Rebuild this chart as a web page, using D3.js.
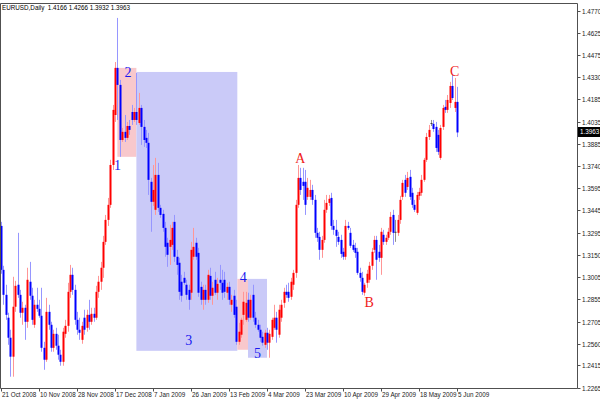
<!DOCTYPE html>
<html><head><meta charset="utf-8">
<script src="https://cdn.jsdelivr.net/npm/d3@7"></script>
<style>body{margin:0;background:#fff}svg{display:block}</style>
</head><body>
<svg id="c" width="600" height="400"></svg>
<script>
const title = "EURUSD,Daily  1.4166 1.4266 1.3932 1.3963";
const open = [1.3342,1.3050,1.2884,1.2732,1.2599,1.2473,1.2805,1.2951,1.2884,1.2765,1.2798,1.2705,1.2971,1.2878,1.2685,1.2818,1.2791,1.2745,1.2532,1.2453,
1.2771,1.2685,1.2532,1.2625,1.2546,1.2486,1.2439,1.2625,1.2678,1.2904,1.3017,1.2917,1.2718,1.2652,1.2585,1.2732,1.2665,1.2751,1.2705,1.2758,
1.2732,1.2904,1.2971,1.3064,1.3236,1.3382,1.3482,1.3747,1.4079,1.4392,1.4279,1.3913,1.3967,1.3927,1.4006,1.4099,1.4046,1.4099,1.4026,1.4126,
1.4000,1.3927,1.3894,1.3635,1.3502,1.3449,1.3681,1.3462,1.3422,1.3329,1.3230,1.3203,1.3216,1.3369,1.3137,1.3097,1.2971,1.2997,1.2951,1.2917,
1.2898,1.3137,1.3230,1.3163,1.2937,1.2851,1.2917,1.2851,1.3010,1.2878,1.2984,1.2898,1.2984,1.2964,1.2984,1.2898,1.2937,1.2818,1.2878,1.2805,
1.2572,1.2619,1.2751,1.2718,1.2851,1.2732,1.2884,1.2732,1.2685,1.2652,1.2605,1.2552,1.2632,1.2566,1.2605,1.2665,1.2732,1.2619,1.2732,1.2831,
1.2904,1.2904,1.2871,1.2951,1.3030,1.3482,1.3661,1.3635,1.3635,1.3535,1.3535,1.3581,1.3515,1.3296,1.3269,1.3183,1.3249,1.3449,1.3495,1.3528,
1.3342,1.3316,1.3269,1.3249,1.3170,1.3137,1.3342,1.3296,1.3216,1.3196,1.3170,1.3030,1.2997,1.2898,1.2964,1.2984,1.3077,1.3183,1.3249,1.3170,
1.3130,1.3283,1.3236,1.3263,1.3303,1.3415,1.3303,1.3296,1.3382,1.3535,1.3648,1.3601,1.3668,1.3562,1.3482,1.3429,1.3542,1.3562,1.3648,1.3781,
1.3933,1.4026,1.4020,1.4000,1.3947,1.3794,1.4000,1.4133,1.4113,1.4159,1.4272,1.4126,1.4166];
const high = [1.3369,1.3077,1.2951,1.2765,1.2652,1.3004,1.2977,1.3296,1.2917,1.2838,1.2818,1.3064,1.3103,1.2931,1.2851,1.2931,1.2851,1.2931,1.2572,1.2864,
1.2818,1.2705,1.2652,1.2665,1.2619,1.2519,1.2665,1.2718,1.2964,1.3083,1.3064,1.2951,1.2771,1.2732,1.2705,1.2785,1.2785,1.2851,1.2798,1.2798,
1.2944,1.3010,1.3103,1.3276,1.3415,1.3528,1.3781,1.4146,1.4431,1.4724,1.4312,1.3993,1.4079,1.4033,1.4046,1.4146,1.4126,1.4358,1.4226,1.4146,
1.4046,1.3980,1.3960,1.3661,1.3747,1.3794,1.3761,1.3482,1.3449,1.3369,1.3263,1.3349,1.3369,1.3415,1.3183,1.3130,1.3017,1.3037,1.2984,1.2951,
1.3236,1.3329,1.3263,1.3196,1.2971,1.2951,1.2951,1.3050,1.3064,1.2971,1.3037,1.2997,1.3083,1.3050,1.3037,1.2964,1.2971,1.2884,1.2917,1.2851,
1.2698,1.2732,1.2904,1.2904,1.2898,1.2884,1.2951,1.2771,1.2718,1.2685,1.2639,1.2652,1.2665,1.2652,1.2732,1.2818,1.2771,1.2818,1.2851,1.2931,
1.2951,1.2964,1.2997,1.3050,1.3515,1.3747,1.3728,1.3728,1.3714,1.3661,1.3648,1.3615,1.3548,1.3329,1.3303,1.3276,1.3515,1.3548,1.3548,1.3562,
1.3382,1.3382,1.3303,1.3283,1.3196,1.3382,1.3369,1.3329,1.3249,1.3230,1.3196,1.3064,1.3037,1.2964,1.3050,1.3103,1.3196,1.3276,1.3276,1.3216,
1.3329,1.3316,1.3283,1.3329,1.3435,1.3449,1.3382,1.3415,1.3542,1.3648,1.3681,1.3701,1.3714,1.3595,1.3515,1.3568,1.3595,1.3681,1.3794,1.3960,
1.4013,1.4046,1.4046,1.4033,1.3980,1.4013,1.4146,1.4179,1.4212,1.4299,1.4345,1.4325,1.4266];
const low = [1.3024,1.2818,1.2718,1.2552,1.2340,1.2340,1.2771,1.2864,1.2732,1.2685,1.2585,1.2665,1.2851,1.2685,1.2665,1.2771,1.2732,1.2506,1.2386,1.2439,
1.2652,1.2506,1.2506,1.2519,1.2453,1.2413,1.2413,1.2599,1.2639,1.2864,1.2884,1.2685,1.2619,1.2585,1.2559,1.2619,1.2639,1.2652,1.2685,1.2705,
1.2718,1.2864,1.2917,1.2997,1.3216,1.3342,1.3462,1.3714,1.4033,1.4046,1.3801,1.3900,1.3900,1.3913,1.3947,1.4013,1.4033,1.4013,1.4013,1.3880,
1.3867,1.3860,1.3548,1.3303,1.3475,1.3415,1.3435,1.3396,1.3303,1.3137,1.3070,1.3083,1.3183,1.3103,1.3017,1.2851,1.2838,1.2951,1.2851,1.2785,
1.2851,1.3117,1.3117,1.2871,1.2818,1.2785,1.2818,1.2831,1.2851,1.2818,1.2884,1.2851,1.2917,1.2851,1.2864,1.2851,1.2818,1.2771,1.2732,1.2552,
1.2552,1.2599,1.2685,1.2705,1.2705,1.2718,1.2705,1.2665,1.2639,1.2572,1.2546,1.2532,1.2519,1.2466,1.2585,1.2652,1.2566,1.2599,1.2705,1.2798,
1.2864,1.2838,1.2851,1.2917,1.2997,1.3462,1.3548,1.3515,1.3415,1.3515,1.3515,1.3482,1.3263,1.3236,1.3117,1.3130,1.3230,1.3429,1.3475,1.3316,
1.3283,1.3203,1.3216,1.3130,1.3117,1.3117,1.3316,1.3196,1.3170,1.3130,1.3017,1.2971,1.2884,1.2878,1.2931,1.2964,1.3050,1.3163,1.2984,1.3103,
1.3017,1.3216,1.3216,1.3249,1.3283,1.3216,1.3236,1.3276,1.3356,1.3515,1.3535,1.3581,1.3515,1.3462,1.3435,1.3415,1.3515,1.3542,1.3635,1.3767,
1.3913,1.4006,1.3967,1.3834,1.3814,1.3781,1.3980,1.4093,1.4093,1.4126,1.4179,1.4099,1.3932];
const close = [1.3050,1.2884,1.2751,1.2599,1.2473,1.2805,1.2944,1.2884,1.2765,1.2798,1.2705,1.2984,1.2878,1.2718,1.2818,1.2791,1.2745,1.2532,1.2453,1.2771,
1.2685,1.2532,1.2625,1.2546,1.2486,1.2439,1.2639,1.2678,1.2904,1.3017,1.2917,1.2718,1.2652,1.2632,1.2678,1.2652,1.2751,1.2705,1.2758,1.2732,
1.2904,1.2971,1.3064,1.3236,1.3382,1.3482,1.3747,1.4113,1.4392,1.4279,1.3913,1.3967,1.3927,1.4006,1.3980,1.4046,1.4099,1.4046,1.4126,1.4000,
1.3913,1.3894,1.3648,1.3502,1.3581,1.3681,1.3462,1.3415,1.3329,1.3203,1.3150,1.3249,1.3329,1.3137,1.3083,1.2904,1.2878,1.2964,1.2884,1.2851,
1.3183,1.3203,1.3137,1.2898,1.2851,1.2917,1.2851,1.3017,1.2878,1.2931,1.2898,1.2957,1.2964,1.2898,1.2904,1.2937,1.2851,1.2851,1.2751,1.2572,
1.2639,1.2718,1.2838,1.2831,1.2732,1.2851,1.2732,1.2685,1.2652,1.2599,1.2566,1.2632,1.2566,1.2625,1.2718,1.2732,1.2652,1.2785,1.2818,1.2904,
1.2884,1.2864,1.2971,1.3030,1.3482,1.3661,1.3581,1.3608,1.3482,1.3595,1.3581,1.3515,1.3296,1.3263,1.3183,1.3249,1.3449,1.3495,1.3522,1.3342,
1.3316,1.3276,1.3236,1.3156,1.3137,1.3342,1.3329,1.3210,1.3183,1.3163,1.3030,1.2997,1.2904,1.2951,1.3024,1.3077,1.3170,1.3249,1.3117,1.3130,
1.3303,1.3236,1.3263,1.3303,1.3402,1.3296,1.3303,1.3382,1.3515,1.3628,1.3562,1.3661,1.3535,1.3482,1.3449,1.3548,1.3568,1.3648,1.3781,1.3933,
1.3980,1.4026,1.3986,1.3860,1.3834,1.3993,1.4126,1.4113,1.4179,1.4272,1.4192,1.4166,1.3963];

const xTickLabels = ["21 Oct 2008","10 Nov 2008","28 Nov 2008","17 Dec 2008","7 Jan 2009","26 Jan 2009","13 Feb 2009","4 Mar 2009","23 Mar 2009","10 Apr 2009","29 Apr 2009","18 May 2009","5 Jun 2009"];
const xTickBars = [0,16,32,48,64,80,96,112,128,144,160,176,192];
const yTicks = [1.4770,1.4625,1.4475,1.4330,1.4185,1.4035,1.3885,1.3740,1.3595,1.3445,1.3295,1.3150,1.3005,1.2855,1.2705,1.2560,1.2415,1.2265];
const lastPrice = 1.3963;

// rectangles (time in bar index, price)
const boxKind   = ["pink","blue","pink","blue"];
const boxFrom   = [49, 57, 99.5, 104];
const boxTo     = [57, 99.5, 104, 112];
const boxTop    = [1.4392, 1.4365, 1.2990, 1.2990];
const boxBottom = [1.3801, 1.2512, 1.2519, 1.2466];

// wave labels
const waveText  = ["1","2","3","4","5","A","B","C"];
const waveKind  = ["impulse","impulse","impulse","impulse","impulse","correction","correction","correction"];
const waveBar   = [49, 53.5, 79, 102, 108, 126, 155, 191];
const wavePrice = [1.3714, 1.4332, 1.2552, 1.2971, 1.2466, 1.3761, 1.2805, 1.4338];

const svg = d3.select("#c");
const x = d3.scaleLinear().domain([0, open.length - 1]).range([1, 457]);
const y = d3.scaleLinear().domain([1.2265, 1.4770]).range([388, 11]);
const R = 577.5, B = 388.5, T = 3.5, Lx = 0.5;
const smallFont = "'Liberation Sans', Arial, sans-serif";

svg.append("rect").attr("width", 600).attr("height", 400).attr("fill", "#fff");

// boxes
const boxFill = {pink: "#f8c8cc", blue: "#cacaf8"};
svg.append("g").selectAll("rect").data(boxKind).join("rect")
  .attr("x", (d, i) => x(boxFrom[i]))
  .attr("width", (d, i) => x(boxTo[i]) - x(boxFrom[i]))
  .attr("y", (d, i) => y(boxTop[i]))
  .attr("height", (d, i) => y(boxBottom[i]) - y(boxTop[i]))
  .attr("fill", d => boxFill[d]);

// candles
const bars = d3.range(open.length).map(i => ({i, o: open[i], h: high[i], l: low[i], c: close[i]}));
const cg = svg.append("g");
const kind = d => d.c > d.o ? "up" : d.c < d.o ? "down" : "flat";
const wickCol = {up: "#ff9696", down: "#9696ff", flat: "#909090"};
const bodyCol = {up: "#ff0000", down: "#0000ff", flat: "#404040"};
cg.selectAll("line").data(bars).join("line")
  .attr("x1", d => Math.round(x(d.i)) + 0.5).attr("x2", d => Math.round(x(d.i)) + 0.5)
  .attr("y1", d => y(d.h)).attr("y2", d => y(d.l))
  .attr("stroke", d => wickCol[kind(d)]).attr("stroke-width", 1);
cg.selectAll("rect").data(bars).join("rect")
  .attr("x", d => Math.round(x(d.i)) - 0.5)
  .attr("width", 2)
  .attr("y", d => y(Math.max(d.o, d.c)))
  .attr("height", d => Math.max(1, y(Math.min(d.o, d.c)) - y(Math.max(d.o, d.c))))
  .attr("fill", d => bodyCol[kind(d)]);

// wave labels
const waveCol = {impulse: "#1a1af0", correction: "#f01a1a"};
svg.append("g").selectAll("text").data(waveText).join("text")
  .attr("x", (d, i) => x(waveBar[i])).attr("y", (d, i) => y(wavePrice[i]))
  .attr("text-anchor", "middle")
  .attr("font-family", "'Liberation Serif', 'Times New Roman', serif")
  .attr("font-size", 14)
  .attr("fill", (d, i) => waveCol[waveKind[i]])
  .text(d => d);

// frame
svg.append("path")
  .attr("d", `M${Lx},${T}H${R}V${B}H${Lx}Z`)
  .attr("fill", "none").attr("stroke", "#505050").attr("stroke-width", 1);

// y axis ticks/labels
const yg = svg.append("g");
yTicks.forEach(v => {
  const py = Math.round(y(v)) + 0.5;
  yg.append("line").attr("x1", R).attr("x2", R + 3).attr("y1", py).attr("y2", py).attr("stroke", "#505050");
  yg.append("text").attr("x", 582).attr("y", py + 2.2)
    .attr("font-family", smallFont).attr("font-size", 6.3).attr("fill", "#222").text(v.toFixed(4));
});
// last price box
const ly = y(lastPrice);
svg.append("rect").attr("x", 578).attr("y", Math.round(ly) - 5).attr("width", 22).attr("height", 10).attr("fill", "#000");
svg.append("text").attr("x", 580).attr("y", Math.round(ly) + 2.2)
  .attr("font-family", smallFont).attr("font-size", 6.3).attr("fill", "#fff").text(lastPrice.toFixed(4));

// x axis ticks/labels
const xg = svg.append("g");
xTickBars.forEach((b, k) => {
  const px = Math.round(x(b)) + 0.5;
  xg.append("line").attr("x1", px).attr("x2", px).attr("y1", B).attr("y2", B + 3).attr("stroke", "#505050");
  xg.append("text").attr("x", px + 0.5).attr("y", 397)
    .attr("font-family", smallFont).attr("font-size", 6.3).attr("fill", "#222").text(xTickLabels[k]);
});

// title
svg.append("text").attr("x", 2).attr("y", 10)
  .attr("font-family", smallFont).attr("font-size", 6.3).attr("fill", "#000").attr("xml:space", "preserve")
  .style("white-space", "pre").text(title);
</script>
</body></html>
